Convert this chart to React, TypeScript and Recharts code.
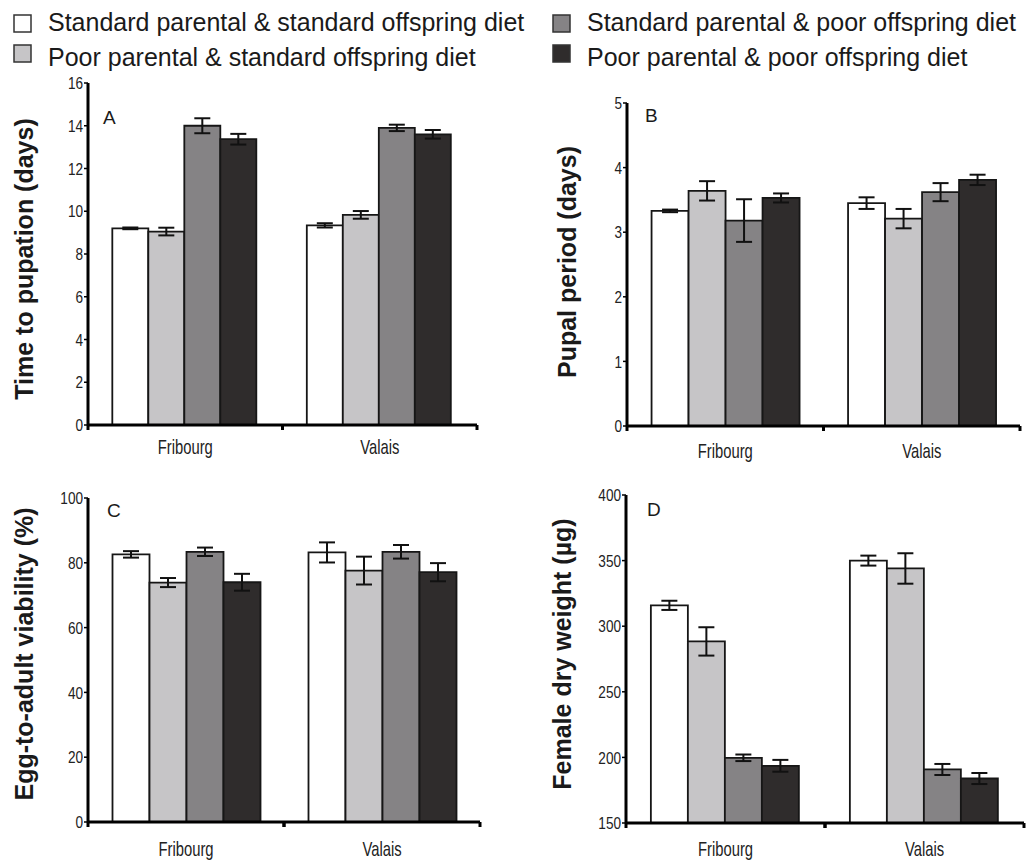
import React from 'react';
import { BarChart, Bar, XAxis, YAxis, ErrorBar } from 'recharts';

const CATEGORIES = ['Fribourg', 'Valais'];
const SERIES_LABELS = [
  'Standard parental & standard offspring diet',
  'Poor parental & standard offspring diet',
  'Standard parental & poor offspring diet',
  'Poor parental & poor offspring diet',
];
const SERIES_COLORS = ['#ffffff', '#c6c5c7', '#858385', '#2f2c2c'];

// Panel A: time to pupation (days) — series order as SERIES_LABELS, values per category
const pupationMeans = [[9.2, 9.34], [9.05, 9.83], [14.0, 13.9], [13.37, 13.6]];
const pupationErrors = [[0.04, 0.1], [0.18, 0.18], [0.35, 0.15], [0.25, 0.2]];
const pupationTicks = [0, 2, 4, 6, 8, 10, 12, 14, 16];

// Panel B: pupal period (days)
const pupalMeans = [[3.33, 3.45], [3.64, 3.21], [3.18, 3.62], [3.53, 3.81]];
const pupalErrors = [[0.02, 0.09], [0.15, 0.15], [0.33, 0.14], [0.07, 0.08]];
const pupalTicks = [0, 1, 2, 3, 4, 5];

// Panel C: egg-to-adult viability (%)
const viabilityMeans = [[82.6, 83.2], [73.9, 77.6], [83.4, 83.4], [74.0, 77.1]];
const viabilityErrors = [[1.0, 3.1], [1.4, 4.3], [1.3, 2.1], [2.6, 2.8]];
const viabilityTicks = [0, 20, 40, 60, 80, 100];

// Panel D: female dry weight (µg)
const weightMeans = [[315.9, 350.0], [288.4, 344.0], [199.7, 190.8], [193.6, 183.9]];
const weightErrors = [[3.5, 3.8], [10.8, 11.6], [2.5, 4.2], [4.5, 4.2]];
const weightTicks = [150, 200, 250, 300, 350, 400];

const SANS = "'Liberation Sans', Arial, Helvetica, sans-serif";

function buildRows(means: number[][], errors: number[][]) {
  return CATEGORIES.map((cat, i) => {
    const row: Record<string, any> = { cat };
    means.forEach((s, k) => {
      row['m' + k] = s[i];
      row['e' + k] = errors[k][i];
    });
    return row;
  });
}

const CategoryTick = (props: any) => {
  const { x, y, payload, dy, half } = props;
  return (
    <g>
      <line x1={x - half} x2={x - half} y1={y} y2={y + 5} stroke="#000" strokeWidth={3} />
      <line x1={x + half} x2={x + half} y1={y} y2={y + 5} stroke="#000" strokeWidth={3} />
      <text transform={`translate(${x}, ${y + dy}) scale(0.74, 1)`} textAnchor="middle" fontFamily={SANS} fontSize={20} fill="#222">
        {payload.value}
      </text>
    </g>
  );
};

const ValueTick = (props: any) => {
  const { x, y, payload } = props;
  return (
    <text transform={`translate(${x}, ${y}) scale(0.8, 1)`} textAnchor="end" dy="0.36em" fontFamily={SANS} fontSize={17} fill="#222">
      {payload.value}
    </text>
  );
};

type PanelProps = {
  left: number; top: number; width: number; height: number;
  margin: { top: number; right: number; left: number; bottom: number };
  yAxisWidth: number;
  rows: any[];
  domain: [number, number];
  ticks: number[];
  labelDy: number;
};

function Panel({ left, top, width, height, margin, yAxisWidth, rows, domain, ticks, labelDy }: PanelProps) {
  const plotWidth = width - margin.left - margin.right - yAxisWidth;
  const half = plotWidth / 4;
  return (
    <div style={{ position: 'absolute', left, top, width, height }}>
      <BarChart width={width} height={height} data={rows} margin={margin} barCategoryGap="12.5%" barGap={0}>
        <XAxis
          dataKey="cat"
          height={30}
          interval={0}
          axisLine={{ stroke: '#000', strokeWidth: 3 }}
          tickLine={false}
          tickSize={0}
          tickMargin={0}
          tick={<CategoryTick dy={labelDy} half={half} />}
        />
        <YAxis
          type="number"
          domain={domain}
          ticks={ticks}
          interval={0}
          width={yAxisWidth}
          allowDataOverflow
          axisLine={{ stroke: '#000', strokeWidth: 3 }}
          tickLine={{ stroke: '#000', strokeWidth: 1.5 }}
          tickSize={4}
          tickMargin={1}
          tick={<ValueTick />}
        />
        {SERIES_COLORS.map((c, k) => (
          <Bar key={k} dataKey={'m' + k} fill={c} stroke="#161616" strokeWidth={1.8} isAnimationActive={false}>
            <ErrorBar dataKey={'e' + k} width={8} stroke="#111" strokeWidth={2} direction="y" isAnimationActive={false} />
          </Bar>
        ))}
      </BarChart>
    </div>
  );
}

const TITLES = [
  { text: 'Time to pupation (days)', x: 33, y: 259 },
  { text: 'Pupal period (days)', x: 576, y: 262 },
  { text: 'Egg-to-adult viability (%)', x: 33, y: 654 },
  { text: 'Female dry weight (µg)', x: 571, y: 654 },
];
const LETTERS = [
  { text: 'A', x: 103, y: 124 },
  { text: 'B', x: 645, y: 122 },
  { text: 'C', x: 107, y: 517 },
  { text: 'D', x: 647, y: 516 },
];
const LEGEND_POS = [
  { sx: 14, sy: 15, tx: 48, ty: 31 },
  { sx: 14, sy: 45, tx: 48, ty: 66 },
  { sx: 553, sy: 15, tx: 587, ty: 31 },
  { sx: 553, sy: 45, tx: 587, ty: 66 },
];

export default function App() {
  return (
    <div style={{ position: 'absolute', left: 0, top: 0, width: 1026, height: 865, background: '#fff', overflow: 'hidden' }}>
      <Panel left={0} top={70} width={500} height={400} margin={{ top: 13, right: 23, left: 0, bottom: 15 }} yAxisWidth={88}
        rows={buildRows(pupationMeans, pupationErrors)} domain={[0, 16]} ticks={pupationTicks} labelDy={29} />
      <Panel left={520} top={70} width={506} height={400} margin={{ top: 33, right: 6, left: 0, bottom: 14 }} yAxisWidth={107}
        rows={buildRows(pupalMeans, pupalErrors)} domain={[0, 5]} ticks={pupalTicks} labelDy={32} />
      <Panel left={0} top={470} width={500} height={395} margin={{ top: 28, right: 20, left: 0, bottom: 13 }} yAxisWidth={88}
        rows={buildRows(viabilityMeans, viabilityErrors)} domain={[0, 100]} ticks={viabilityTicks} labelDy={34} />
      <Panel left={520} top={470} width={506} height={395} margin={{ top: 25, right: 2, left: 0, bottom: 12 }} yAxisWidth={106}
        rows={buildRows(weightMeans, weightErrors)} domain={[150, 400]} ticks={weightTicks} labelDy={33} />
      <svg width={1026} height={865} style={{ position: 'absolute', left: 0, top: 0, pointerEvents: 'none' }}>
        {SERIES_LABELS.map((label, k) => {
          const p = LEGEND_POS[k];
          return (
            <g key={label}>
              <rect x={p.sx} y={p.sy} width={17} height={17} fill={SERIES_COLORS[k]} stroke="#333" strokeWidth={1.5} />
              <text x={p.tx} y={p.ty} fontFamily={SANS} fontSize={25} fill="#1a1a1a">{label}</text>
            </g>
          );
        })}
        {TITLES.map((t) => (
          <text key={t.text} x={t.x} y={t.y} transform={`rotate(-90, ${t.x}, ${t.y})`} textAnchor="middle"
            fontFamily={SANS} fontWeight="bold" fontSize={25} fill="#1a1a1a">{t.text}</text>
        ))}
        {LETTERS.map((l) => (
          <text key={l.text} x={l.x} y={l.y} fontFamily={SANS} fontSize={19} fill="#1a1a1a">{l.text}</text>
        ))}
      </svg>
    </div>
  );
}
